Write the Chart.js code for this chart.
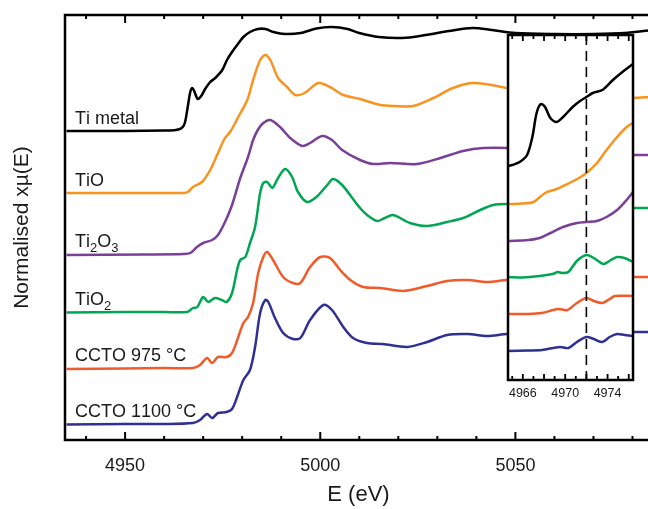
<!DOCTYPE html>
<html>
<head>
<meta charset="utf-8">
<script src="https://cdn.jsdelivr.net/npm/chart.js@4.4.1/dist/chart.umd.min.js"></script>
<style>
  html, body { margin: 0; padding: 0; background: #fff; overflow: hidden; width: 648px; height: 509px; }
  #main { position: absolute; left: 0; top: 0; }
  #inset { position: absolute; left: 496px; top: 30px; }
</style>
</head>
<body>
<canvas id="main" width="660" height="509"></canvas>
<canvas id="inset" width="150" height="385"></canvas>
<script>
// sample names, colours and vertical offsets (stacked spectra)
const names = ['Ti metal', 'TiO', 'Ti2O3', 'TiO2', 'CCTO 975 °C', 'CCTO 1100 °C'];
const colors = ['#000000', '#F7931E', '#7B3F98', '#00A651', '#F15A29', '#2E3192'];
const offsets = [3.09, 2.47, 1.86, 1.28, 0.72, 0.16];
const insetOffsets = [2.15, 1.76, 1.39, 1.03, 0.66, 0.29];

const mainTicks = [4950, 5000, 5050];
const insetTicks = [4966, 4970, 4974];
const insetMarker = 4972;

// full XANES range, normalised xmu(E)
const tiMetalE = [4935, 4950, 4960, 4963, 4964.5, 4965.3, 4966, 4966.7, 4967.2, 4967.7, 4968.6, 4969.5, 4970.5, 4971.8, 4973.1, 4974.9, 4976.1, 4977.4, 4978.7, 4980.3, 4982, 4984, 4986, 4988, 4991, 4995, 4999, 5003, 5007, 5010, 5015, 5021, 5027, 5033, 5039, 5044, 5050, 5060, 5070, 5078, 5085];
const tiMetalMu = [0, 0, 0.005, 0.01, 0.03, 0.08, 0.23, 0.39, 0.43, 0.40, 0.32, 0.35, 0.42, 0.49, 0.53, 0.61, 0.71, 0.79, 0.86, 0.94, 0.99, 1.02, 1.02, 0.99, 0.97, 0.98, 1.025, 1.04, 1.02, 0.98, 0.94, 0.93, 0.96, 1.00, 1.03, 1.01, 0.98, 0.97, 0.97, 0.98, 1.01];

const tioE = [4935, 4955, 4965, 4966.1, 4967.4, 4969.7, 4971.8, 4973.8, 4975.6, 4976.9, 4979, 4981.3, 4982.8, 4984.6, 4985.9, 4987.2, 4989.2, 4991.5, 4993.6, 4996, 4999.5, 5002.5, 5005.9, 5010.2, 5015.4, 5019, 5023.8, 5029, 5034, 5039, 5044, 5050, 5060, 5070, 5080, 5085];
const tioMu = [0, 0, 0, 0.01, 0.06, 0.11, 0.23, 0.40, 0.55, 0.61, 0.76, 0.93, 1.13, 1.33, 1.38, 1.33, 1.15, 1.06, 0.98, 1.00, 1.10, 1.06, 0.98, 0.94, 0.88, 0.87, 0.87, 0.95, 1.05, 1.10, 1.08, 1.03, 0.97, 0.95, 0.95, 0.96];

const ti2o3E = [4935, 4955, 4965, 4966.7, 4968.4, 4970, 4972.3, 4973.8, 4975.6, 4977.4, 4979.5, 4981.5, 4982.8, 4984, 4985.4, 4987.2, 4989.7, 4992.3, 4995.4, 4997.4, 5000.5, 5003, 5005.6, 5010.2, 5013.6, 5018, 5024.8, 5030.8, 5036.6, 5041.8, 5047.9, 5060, 5070, 5080, 5085];
const ti2o3Mu = [-0.01, -0.005, 0, 0.01, 0.07, 0.11, 0.14, 0.19, 0.32, 0.49, 0.76, 0.97, 1.14, 1.24, 1.31, 1.34, 1.27, 1.16, 1.08, 1.11, 1.18, 1.14, 1.04, 0.94, 0.90, 0.91, 0.90, 0.96, 1.03, 1.06, 1.06, 1.02, 1.00, 0.99, 0.99];

const tio2E = [4935, 4950, 4960, 4965.9, 4967.4, 4968.5, 4970, 4971.3, 4973, 4974.8, 4976, 4977.4, 4978.7, 4979.5, 4980.8, 4982, 4983.3, 4984.6, 4985.4, 4986.4, 4987.7, 4989.2, 4991, 4992.8, 4994.3, 4996.6, 4999, 5001.8, 5003.3, 5005.6, 5008.2, 5010.2, 5012, 5014.6, 5016.5, 5018.7, 5023, 5027.4, 5032.5, 5036.6, 5041, 5044.3, 5047.9, 5060, 5070, 5080, 5085];
const tio2Mu = [-0.005, 0, 0, 0, 0.04, 0.05, 0.15, 0.10, 0.14, 0.12, 0.10, 0.19, 0.42, 0.52, 0.55, 0.69, 0.85, 1.19, 1.29, 1.30, 1.24, 1.34, 1.43, 1.35, 1.20, 1.10, 1.15, 1.27, 1.33, 1.27, 1.14, 1.04, 0.97, 0.91, 0.94, 0.97, 0.89, 0.86, 0.90, 0.94, 1.02, 1.07, 1.08, 1.07, 1.05, 1.04, 1.04];

const ccto975E = [4935, 4950, 4960, 4967.4, 4969.2, 4971, 4972.3, 4973.8, 4976, 4977.4, 4979, 4980.3, 4981.5, 4982.8, 4984.1, 4985.4, 4986.4, 4987.9, 4990.5, 4993, 4994.9, 4997.4, 5000, 5002.5, 5005.1, 5007.7, 5011, 5015.4, 5021.3, 5027.4, 5032.5, 5037.7, 5042.8, 5047.9, 5060, 5070, 5080, 5085];
const ccto975Mu = [-0.01, -0.005, 0, 0, 0.03, 0.10, 0.05, 0.11, 0.11, 0.15, 0.31, 0.45, 0.51, 0.65, 0.95, 1.11, 1.16, 1.08, 0.91, 0.85, 0.85, 1.01, 1.11, 1.10, 0.98, 0.88, 0.81, 0.80, 0.77, 0.82, 0.87, 0.88, 0.86, 0.88, 0.89, 0.90, 0.91, 0.91];

const ccto1100E = [4935, 4950, 4960, 4967.4, 4969.2, 4971, 4972.3, 4973.8, 4976, 4977.4, 4978.7, 4980.3, 4982, 4983.3, 4984.6, 4985.9, 4986.7, 4988.4, 4990.5, 4993, 4994.9, 4997.4, 5000.8, 5003, 5005.9, 5008.4, 5012, 5016, 5022.3, 5027.4, 5032.5, 5037.7, 5042.8, 5047.9, 5060, 5070, 5080, 5085];
const ccto1100Mu = [-0.005, 0, 0, 0.01, 0.04, 0.10, 0.06, 0.11, 0.12, 0.15, 0.27, 0.44, 0.54, 0.77, 1.11, 1.24, 1.22, 1.06, 0.91, 0.85, 0.86, 1.04, 1.19, 1.14, 0.97, 0.86, 0.81, 0.80, 0.77, 0.82, 0.89, 0.90, 0.88, 0.90, 0.91, 0.91, 0.92, 0.92];

// pre-edge close-up (inset)
const insetMetalE = [4964.6, 4965, 4965.7, 4966.4, 4966.9, 4967.3, 4967.7, 4968.1, 4968.6, 4969.2, 4969.8, 4970.7, 4971.4, 4972, 4972.6, 4973.5, 4974.5, 4975.4, 4976.4];
const insetMetalMu = [-0.01, 0, 0.03, 0.10, 0.28, 0.52, 0.61, 0.58, 0.47, 0.43, 0.48, 0.58, 0.64, 0.68, 0.72, 0.75, 0.85, 0.93, 1.01];
const insetTioE = [4964.6, 4966, 4967, 4968.1, 4969.2, 4970.4, 4971.3, 4972, 4973, 4973.9, 4974.9, 4975.8, 4976.4];
const insetTioMu = [0, 0.005, 0.02, 0.11, 0.15, 0.21, 0.26, 0.31, 0.41, 0.54, 0.67, 0.77, 0.81];
const insetTi2o3E = [4964.6, 4966.5, 4967.6, 4968.6, 4969.8, 4971.1, 4972, 4973, 4973.9, 4974.9, 4975.8, 4976.4];
const insetTi2o3Mu = [0, 0.01, 0.03, 0.08, 0.14, 0.18, 0.19, 0.20, 0.24, 0.31, 0.41, 0.49];
const insetTio2E = [4964.6, 4966, 4967.6, 4968.8, 4969.3, 4969.7, 4970.3, 4971.1, 4972, 4972.7, 4973.6, 4974.3, 4974.9, 4975.6, 4976.4];
const insetTio2Mu = [0, -0.005, 0.01, 0.03, 0.05, 0.04, 0.05, 0.16, 0.22, 0.19, 0.13, 0.17, 0.20, 0.19, 0.15];
const insetCcto975E = [4964.6, 4966.5, 4967.8, 4969.3, 4970.2, 4971.1, 4972, 4972.7, 4973.5, 4974.2, 4974.7, 4976.4];
const insetCcto975Mu = [0, 0, 0.01, 0.05, 0.04, 0.11, 0.16, 0.13, 0.11, 0.15, 0.18, 0.18];
const insetCcto1100E = [4964.6, 4966.5, 4967.8, 4969.5, 4970.3, 4971.1, 4972, 4972.7, 4973.5, 4974.2, 4974.9, 4975.6, 4976.4];
const insetCcto1100Mu = [0, 0.005, 0.01, 0.04, 0.03, 0.09, 0.14, 0.12, 0.09, 0.14, 0.17, 0.16, 0.15];

const mainE = [tiMetalE, tioE, ti2o3E, tio2E, ccto975E, ccto1100E];
const mainMu = [tiMetalMu, tioMu, ti2o3Mu, tio2Mu, ccto975Mu, ccto1100Mu];
const insetE = [insetMetalE, insetTioE, insetTi2o3E, insetTio2E, insetCcto975E, insetCcto1100E];
const insetMu = [insetMetalMu, insetTioMu, insetTi2o3Mu, insetTio2Mu, insetCcto975Mu, insetCcto1100Mu];

const FONT = "'Liberation Sans', Arial, sans-serif";
const TEXT = '#1a1a1a';

function makeSets(eArr, muArr, offs) {
  return eArr.map((es, i) => ({
    label: names[i],
    data: es.map((e, j) => ({ x: e, y: muArr[i][j] + offs[i] })),
    borderColor: colors[i],
    borderWidth: 2.5,
    pointRadius: 0,
    tension: 0.3,
    fill: false
  }));
}

// draws "Ti2O3" style names with subscript digits
function drawName(ctx, name, x, y) {
  const chem = /^Ti/.test(name);
  let cx = x;
  for (const ch of name) {
    const sub = chem && /[0-9]/.test(ch);
    ctx.font = (sub ? '13px ' : '18px ') + FONT;
    ctx.fillText(ch, cx, sub ? y + 5 : y);
    cx += ctx.measureText(ch).width;
  }
}

function inwardTicks(ctx, xs, area, from, to, step, isMajor, majLen, minLen) {
  ctx.beginPath();
  for (let v = from; v <= to + 1e-6; v += step) {
    const px = xs.getPixelForValue(v);
    const len = isMajor(v) ? majLen : minLen;
    ctx.moveTo(px, area.bottom); ctx.lineTo(px, area.bottom - len);
    ctx.moveTo(px, area.top); ctx.lineTo(px, area.top + len);
  }
  ctx.stroke();
}

const mainDecor = {
  id: 'mainDecor',
  afterDatasetsDraw(chart) {
    const { ctx, chartArea: a, scales: { x, y } } = chart;
    ctx.save();
    ctx.strokeStyle = '#000';
    ctx.lineWidth = 2.5;
    ctx.strokeRect(a.left, a.top, a.right - a.left, a.bottom - a.top);
    ctx.lineWidth = 2;
    inwardTicks(ctx, x, a, 4940, 5080, 10, v => Math.round(v) % 50 === 0, 8, 4);
    ctx.fillStyle = TEXT;
    ctx.textBaseline = 'alphabetic';
    names.forEach((n, i) => drawName(ctx, n, 75, y.getPixelForValue(offsets[i]) - 7));
    ctx.restore();
  }
};

const insetDecor = {
  id: 'insetDecor',
  beforeDatasetsDraw(chart) {
    const { ctx, chartArea: a } = chart;
    ctx.save();
    ctx.fillStyle = '#fff';
    ctx.fillRect(a.left, a.top, a.right - a.left, a.bottom - a.top);
    ctx.restore();
  },
  afterDatasetsDraw(chart) {
    const { ctx, chartArea: a, scales: { x } } = chart;
    ctx.save();
    ctx.strokeStyle = '#000';
    ctx.lineWidth = 1.6;
    ctx.setLineDash([10, 6]);
    const mx = x.getPixelForValue(insetMarker);
    ctx.beginPath(); ctx.moveTo(mx, a.top); ctx.lineTo(mx, a.bottom); ctx.stroke();
    ctx.setLineDash([]);
    ctx.lineWidth = 2.5;
    ctx.strokeRect(a.left, a.top, a.right - a.left, a.bottom - a.top);
    ctx.lineWidth = 1.8;
    inwardTicks(ctx, x, a, 4965, 4976, 1, v => Math.round(v) % 2 === 0, 6, 4);
    ctx.restore();
  }
};

new Chart(document.getElementById('main').getContext('2d'), {
  type: 'line',
  data: { datasets: makeSets(mainE, mainMu, offsets) },
  options: {
    responsive: false,
    animation: false,
    layout: { padding: { top: 15, right: 8, left: 0, bottom: 0 } },
    plugins: { legend: { display: false }, tooltip: { enabled: false } },
    scales: {
      x: {
        type: 'linear', min: 4934.6, max: 5085,
        grid: { display: false }, border: { display: false },
        afterBuildTicks: s => { s.ticks = mainTicks.map(v => ({ value: v })); },
        afterFit: s => { s.height = 69; },
        ticks: { color: TEXT, padding: 7, maxRotation: 0, font: { family: FONT, size: 18 }, callback: v => String(v) },
        title: { display: true, text: 'E (eV)', color: TEXT, font: { family: FONT, size: 22 }, padding: { top: 0, bottom: 1 } }
      },
      y: {
        type: 'linear', min: 0, max: 4.25,
        grid: { display: false }, border: { display: false },
        ticks: { display: false },
        afterFit: s => { s.width = 65; },
        title: { display: true, text: 'Normalised xµ(E)', color: TEXT, font: { family: FONT, size: 21 }, padding: { top: 10, bottom: 0 } }
      }
    }
  },
  plugins: [mainDecor]
});

new Chart(document.getElementById('inset').getContext('2d'), {
  type: 'line',
  data: { datasets: makeSets(insetE, insetMu, insetOffsets) },
  options: {
    responsive: false,
    animation: false,
    layout: { padding: { top: 5, right: 13, left: 12, bottom: 0 } },
    plugins: { legend: { display: false }, tooltip: { enabled: false } },
    scales: {
      x: {
        type: 'linear', min: 4964.6, max: 4976.4,
        grid: { display: false }, border: { display: false },
        afterBuildTicks: s => { s.ticks = insetTicks.map(v => ({ value: v })); },
        afterFit: s => { s.height = 35; },
        ticks: { color: TEXT, padding: -2, maxRotation: 0, font: { family: FONT, size: 12.5 }, callback: v => String(v) }
      },
      y: { type: 'linear', min: 0, max: 3.45, display: false }
    }
  },
  plugins: [insetDecor]
});
</script>
</body>
</html>
